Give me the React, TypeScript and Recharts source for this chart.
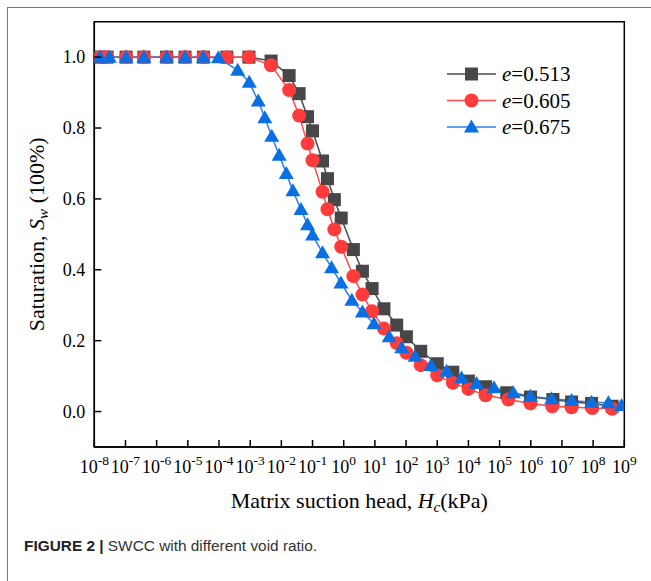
import React from 'react';
import { LineChart, Line, XAxis, YAxis, ReferenceArea, Label } from 'recharts';

// log10 of matrix suction head (kPa) and saturation values for each void ratio
const suctionExp0513 = [-7.82, -7.59, -6.98, -6.41, -5.68, -5.09, -4.5, -3.75, -3.04, -2.33, -1.75, -1.43, -1.16, -1.0, -0.68, -0.52, -0.3, -0.08, 0.31, 0.6, 0.91, 1.29, 1.7, 2.01, 2.47, 3.0, 3.5, 4.0, 4.55, 5.23, 5.99, 6.71, 7.31, 7.95, 8.61];
const saturation0513 = [1, 1, 1, 1, 1, 1, 1, 1, 1, 0.989, 0.948, 0.897, 0.832, 0.792, 0.707, 0.657, 0.598, 0.546, 0.457, 0.396, 0.347, 0.29, 0.244, 0.211, 0.17, 0.135, 0.111, 0.086, 0.07, 0.053, 0.041, 0.034, 0.027, 0.023, 0.015];

const suctionExp0605 = [-7.82, -7.59, -6.98, -6.41, -5.68, -5.09, -4.5, -3.75, -3.04, -2.33, -1.75, -1.43, -1.16, -1.0, -0.68, -0.52, -0.3, -0.08, 0.31, 0.6, 0.91, 1.29, 1.7, 2.01, 2.47, 3.0, 3.5, 4.0, 4.55, 5.28, 5.99, 6.69, 7.31, 7.97, 8.61];
const saturation0605 = [1, 1, 1, 1, 1, 1, 1, 1, 1, 0.977, 0.907, 0.835, 0.756, 0.709, 0.62, 0.571, 0.514, 0.465, 0.382, 0.33, 0.283, 0.234, 0.193, 0.166, 0.131, 0.102, 0.081, 0.064, 0.046, 0.034, 0.023, 0.015, 0.012, 0.01, 0.008];

const suctionExp0675 = [-7.82, -7.52, -6.98, -6.41, -5.68, -5.09, -4.5, -4.02, -3.4, -3.03, -2.74, -2.53, -2.31, -2.07, -1.84, -1.63, -1.37, -1.16, -1.0, -0.68, -0.39, -0.09, 0.26, 0.6, 0.97, 1.46, 1.86, 2.29, 2.8, 3.3, 3.78, 4.26, 4.82, 5.44, 5.99, 6.67, 7.31, 7.95, 8.49, 8.91];
const saturation0675 = [1, 1, 1, 1, 1, 1, 1, 0.998, 0.963, 0.929, 0.876, 0.829, 0.777, 0.723, 0.672, 0.623, 0.57, 0.527, 0.498, 0.448, 0.406, 0.363, 0.314, 0.281, 0.248, 0.211, 0.18, 0.156, 0.13, 0.114, 0.095, 0.079, 0.067, 0.053, 0.043, 0.036, 0.031, 0.026, 0.025, 0.017];

const xTickExps = [-8, -7, -6, -5, -4, -3, -2, -1, 0, 1, 2, 3, 4, 5, 6, 7, 8, 9];
const yTicks = [0, 0.2, 0.4, 0.6, 0.8, 1.0];
const seriesNames = ['0.513', '0.605', '0.675'];

const build = (exps: number[], sats: number[]) => exps.map((e, i) => ({ x: Math.pow(10, e), y: sats[i] }));
const data0513 = build(suctionExp0513, saturation0513);
const data0605 = build(suctionExp0605, saturation0605);
const data0675 = build(suctionExp0675, saturation0675);
const xTicks = xTickExps.map((e) => Math.pow(10, e));

const GRAY = '#474747';
const GRAY_LINE = '#4a4a4a';
const RED = '#ff3b3b';
const RED_LINE = '#ff4a4a';
const BLUE = '#0a6fe2';
const BLUE_LINE = '#2a80ea';
const SERIF = '"Liberation Serif", "Times New Roman", serif';

const squareShape = (cx: number, cy: number, k?: any) => (
  <rect key={k} x={cx - 6.5} y={cy - 6.5} width={13} height={13} fill={GRAY} />
);
const circleShape = (cx: number, cy: number, k?: any) => (
  <circle key={k} cx={cx} cy={cy} r={7} fill={RED} />
);
const triShape = (cx: number, cy: number, k?: any) => (
  <polygon key={k} points={`${cx},${cy - 7.5} ${cx - 7.5},${cy + 5.5} ${cx + 7.5},${cy + 5.5}`} fill={BLUE} />
);

const dotRenderer = (fn: (cx: number, cy: number, k?: any) => React.ReactElement) => (p: any) => {
  if (p.cx == null || p.cy == null) return <g key={`n${p.index}`} />;
  return fn(p.cx, p.cy, `d${p.index}`);
};

const XTick = (props: any) => {
  const { x, y, payload } = props;
  const exp = Math.round(Math.log10(payload.value));
  return (
    <g>
      <line x1={x} y1={y} x2={x} y2={y - 7} stroke="#000" strokeWidth={1.5} />
      <text x={x} y={y + 26} textAnchor="middle" fontFamily={SERIF} fontSize={18} fill="#000">
        10
        <tspan dy={-8} fontSize={13.5}>{exp}</tspan>
      </text>
    </g>
  );
};

const YTick = (props: any) => {
  const { x, y, payload } = props;
  return (
    <g>
      <line x1={x} y1={y} x2={x + 7} y2={y} stroke="#000" strokeWidth={1.5} />
      <text x={x - 9} y={y + 6} textAnchor="end" fontFamily={SERIF} fontSize={18} fill="#000">
        {payload.value.toFixed(1)}
      </text>
    </g>
  );
};

const XTitle = (props: any) => {
  const vb = props.viewBox || {};
  const cx = (vb.x || 0) + (vb.width || 0) / 2;
  return (
    <text x={cx} y={508} textAnchor="middle" fontFamily={SERIF} fontSize={22} fill="#000">
      Matrix suction head, <tspan fontStyle="italic">H</tspan>
      <tspan fontStyle="italic" fontSize={15} dy={4}>c</tspan>
      <tspan dy={-4}>(kPa)</tspan>
    </text>
  );
};

const YTitle = (props: any) => {
  const vb = props.viewBox || {};
  const cy = (vb.y || 0) + (vb.height || 0) / 2;
  return (
    <text x={44} y={cy} transform={`rotate(-90, 44, ${cy})`} textAnchor="middle" fontFamily={SERIF} fontSize={22} fill="#000">
      Saturation, <tspan fontStyle="italic">S</tspan>
      <tspan fontStyle="italic" fontSize={15} dy={4}>w</tspan>
      <tspan dy={-4}> (100%)</tspan>
    </text>
  );
};

const LegendBox = () => {
  const rows = [
    { name: seriesNames[0], line: GRAY_LINE, shape: squareShape },
    { name: seriesNames[1], line: RED_LINE, shape: circleShape },
    { name: seriesNames[2], line: BLUE_LINE, shape: triShape },
  ];
  return (
    <svg width={150} height={80} style={{ display: 'block' }}>
      {rows.map((r, i) => {
        const cy = 14 + i * 26.5;
        return (
          <g key={r.name}>
            <line x1={2} y1={cy} x2={51} y2={cy} stroke={r.line} strokeWidth={1.5} />
            {r.shape(26.5, cy)}
            <text x={57} y={cy + 7} fontFamily={SERIF} fontSize={21} fill="#000">
              <tspan fontStyle="italic">e</tspan>={r.name}
            </text>
          </g>
        );
      })}
    </svg>
  );
};

export default function App() {
  return (
    <div style={{ position: 'absolute', left: 0, top: 0, width: 651, height: 581, background: '#fff' }}>
      <div style={{ position: 'absolute', left: 7, top: 7, width: 644, height: 574, borderTop: '1.5px solid #777', borderLeft: '1.5px solid #777' }} />
      <div style={{ position: 'absolute', left: 0, top: 0 }}>
        <LineChart width={651} height={581} margin={{ top: 21.7, right: 26.7, bottom: 74, left: 34.3 }}>
          <XAxis
            dataKey="x"
            type="number"
            scale="log"
            domain={[1e-8, 1e9]}
            ticks={xTicks}
            interval={0}
            allowDataOverflow
            height={60}
            tickSize={0}
            tickMargin={0}
            tickLine={false}
            axisLine={{ stroke: '#000', strokeWidth: 1.5 }}
            tick={<XTick />}
          >
            <Label content={<XTitle />} />
          </XAxis>
          <YAxis
            type="number"
            domain={[-0.1, 1.1]}
            ticks={yTicks}
            interval={0}
            allowDataOverflow
            width={60}
            tickSize={0}
            tickMargin={0}
            tickLine={false}
            axisLine={{ stroke: '#000', strokeWidth: 1.5 }}
            tick={<YTick />}
          >
            <Label content={<YTitle />} />
          </YAxis>
          <ReferenceArea x1={1e-8} x2={1e9} y1={-0.1} y2={1.1} fill="none" stroke="#000" strokeWidth={1.5} ifOverflow="visible" />
          <Line data={data0513} dataKey="y" name={seriesNames[0]} type="linear" stroke={GRAY_LINE} strokeWidth={1.5} dot={dotRenderer(squareShape)} activeDot={false} isAnimationActive={false} />
          <Line data={data0605} dataKey="y" name={seriesNames[1]} type="linear" stroke={RED_LINE} strokeWidth={1.5} dot={dotRenderer(circleShape)} activeDot={false} isAnimationActive={false} />
          <Line data={data0675} dataKey="y" name={seriesNames[2]} type="linear" stroke={BLUE_LINE} strokeWidth={1.5} dot={dotRenderer(triShape)} activeDot={false} isAnimationActive={false} />
        </LineChart>
      </div>
      <div style={{ position: 'absolute', left: 445, top: 60 }}>
        <LegendBox />
      </div>
      <div style={{ position: 'absolute', left: 24, top: 537, fontFamily: '"Liberation Sans", Arial, sans-serif', fontSize: 15.4, color: '#333', whiteSpace: 'nowrap' }}>
        <b style={{ color: '#222' }}>FIGURE 2 |</b> SWCC with different void ratio.
      </div>
    </div>
  );
}
